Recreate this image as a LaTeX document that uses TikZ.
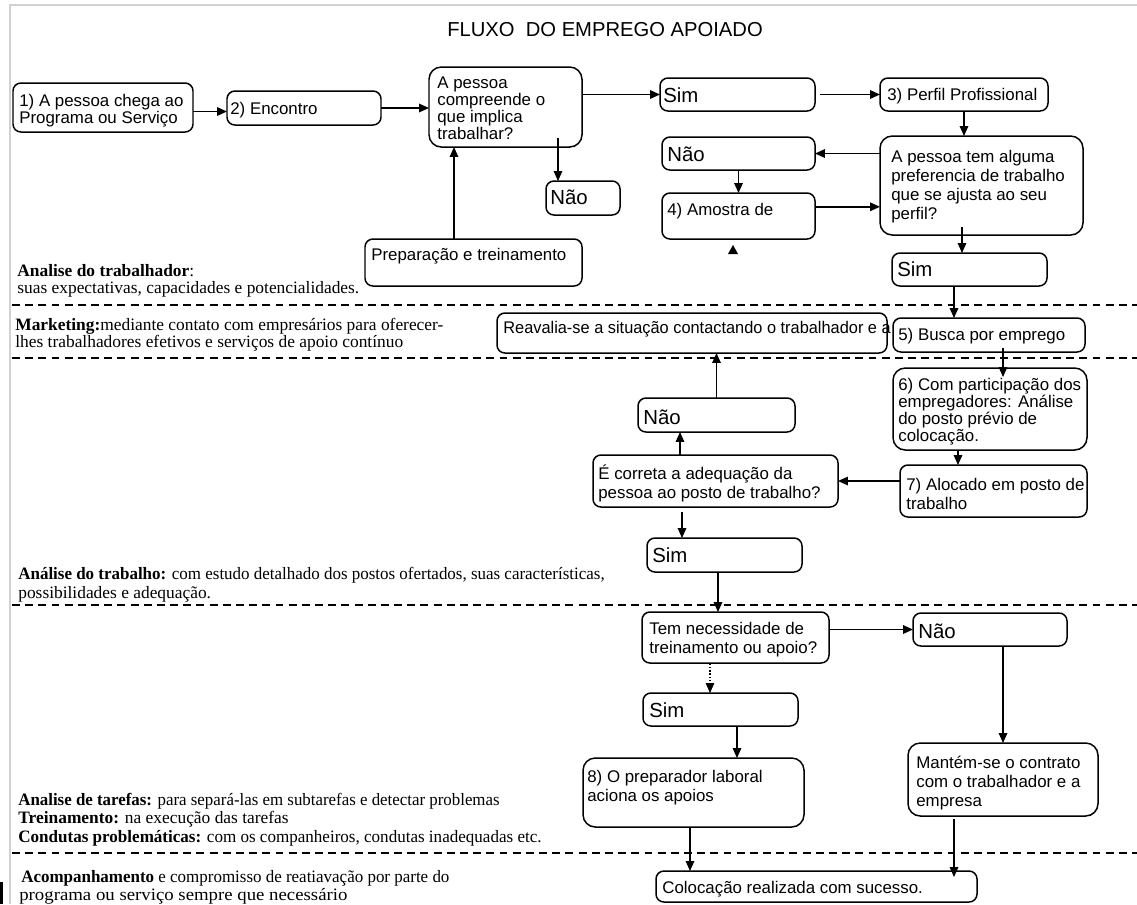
\documentclass[tikz,border=0pt]{standalone}
\usepackage{fontspec}
\setmainfont{Liberation Serif}
\newfontfamily\boxfont{Liberation Sans}
\usetikzlibrary{arrows.meta,fit,calc}

% rounded frame spanning two corner points
\newcommand\frm[6][]{\node[frame,#1,fit={(#3,#4) (#5,#6)}] (#2) {};}

\begin{document}
\begin{tikzpicture}[x=0.02cm,y=-0.02cm,
  frame/.style={draw, line width=0.85pt, rounded corners=4.5pt, inner sep=0pt, outer sep=0pt},
  qframe/.style={rounded corners=7pt},
  arr/.style={-{Triangle[length=5.6pt,width=4.8pt]}, line width=0.8pt},
  sep/.style={dashed, dash pattern=on 4.5pt off 3pt, line width=0.6pt},
  bt/.style={anchor=north west, inner sep=0pt, align=left,
    font=\boxfont\fontsize{9.6}{9.6}\selectfont},
  bt19/.style={bt, font=\boxfont\fontsize{9.6}{10.8}\selectfont},
  big/.style={anchor=west, inner sep=0pt, text height=1.6ex, text depth=0pt,
    font=\boxfont\fontsize{11.6}{12}\selectfont},
  side/.style={anchor=west, inner sep=0pt, text height=1.5ex, text depth=.25ex,
    font=\fontsize{9.9}{10}\selectfont},
]
\useasboundingbox (0,0) rectangle (1137,904);

% page frame
\draw[black!18, line width=1pt] (1137,5) -- (10,5) -- (10,904);
\fill (0,882) rectangle (3,904);

% title
\node[font=\boxfont\fontsize{11.5}{12}\selectfont, inner sep=0pt] (title) at (605,30) {FLUXO\ \ DO EMPREGO APOIADO};

% section separators
\draw[sep] (12,305) -- (1137,305);
\draw[sep] (12,358) -- (1137,358);
\draw[sep] (12,605) -- (1137,605);
\draw[sep] (12,853) -- (1137,853);

% frames
\frm{b1}{13}{83}{193}{132}
\frm{b2}{227}{91}{381}{125}
\frm[qframe]{q1}{429}{67}{582}{147}
\frm{sim1}{660}{78}{815}{111}
\frm{b3}{880}{78}{1048}{111}
\frm[qframe]{q2}{880}{136}{1083}{235}
\frm{nao2}{662}{137}{815}{170}
\frm{am}{662}{193}{815}{239}
\frm{nao1}{546}{181}{620}{215}
\frm{prep}{365}{239}{582}{286}
\frm{sim2}{892}{253}{1047}{286}
\frm{reav}{497}{313}{887}{353}
\frm{busca}{893}{318}{1085}{352}
\frm[qframe]{b6}{893}{368}{1087}{450}
\frm{b7}{900}{465}{1087}{517}
\frm{q3}{593}{455}{838}{507}
\frm{nao3}{638}{398}{795}{432}
\frm{sim3}{647}{538}{802}{572}
\frm{q4}{642}{612}{829}{663}
\frm{nao4}{913}{613}{1067}{646}
\frm{sim4}{643}{693}{798}{726}
\frm[qframe]{b8}{583}{758}{804}{827}
\frm[qframe]{mant}{908}{743}{1098}{816}
\frm{coloc}{656}{871}{977}{902}

% frame texts
\node[bt] (t1) at (19,94) {1) A pessoa chega ao\\Programa ou Serviço};
\node[bt] (t2) at (230,102) {2) Encontro};
\node[bt] (tq1) at (437,77) {A pessoa\\compreende o\\que implica\\trabalhar?};
\node[big] (ts1) at (663,96) {Sim};
\node[bt] (t3) at (887,88) {3) Perfil Profissional};
\node[bt19] (tq2) at (891,150) {A pessoa tem alguma\\preferencia de trabalho\\que se ajusta ao seu\\perfil?};
\node[big] (tn2) at (667,155) {Não};
\node[bt] (t4) at (667,203) {4) Amostra de};
\node[big] (tn1) at (550,198) {Não};
\node[bt] (tp) at (371,248) {Preparação e treinamento};
\node[big] (ts2) at (897,270) {Sim};
\node[bt] (tr) at (503,321) {\scalebox{0.97}[1]{Reavalia-se a situação contactando o trabalhador e a}};
\node[bt] (t5) at (898,328) {5) Busca por emprego};
\node[bt] (t6) at (898,378) {6) Com participação dos\\empregadores: Análise\\do posto prévio de\\colocação.};
\node[bt19] (t7) at (906,478) {7) Alocado em posto de\\trabalho};
\node[bt19] (tq3) at (598,465) {É correta a adequação da\\pessoa ao posto de trabalho?};
\node[big] (tn3) at (643,418) {Não};
\node[big] (ts3) at (652,556) {Sim};
\node[bt19] (tq4) at (649,622) {Tem necessidade de\\treinamento ou apoio?};
\node[big] (tn4) at (918,632) {Não};
\node[big] (ts4) at (649,711) {Sim};
\node[bt19] (t8) at (587,770) {8) O preparador laboral\\aciona os apoios};
\node[bt19] (tm) at (916,756) {Mantém-se o contrato\\com o trabalhador e a\\empresa};
\node[bt] (tc) at (662,881) {Colocação realizada com sucesso.};

% side notes
\node[side] (s1) at (17,271) {\textbf{Analise do trabalhador}:};
\node[side] (s2) at (17,288) {suas expectativas, capacidades e potencialidades.};
\node[side] (s3) at (15,325) {\textbf{Marketing:}mediante contato com empresários para oferecer-};
\node[side] (s4) at (15,342) {lhes trabalhadores efetivos e serviços de apoio contínuo};
\node[side] (s5) at (18,574) {\scalebox{0.975}[1]{\textbf{Análise do trabalho:} com estudo detalhado dos postos ofertados, suas características,}};
\node[side] (s6) at (18,593) {possibilidades e adequação.};
\node[side] (s7) at (18,800) {\scalebox{0.97}[1]{\textbf{Analise de tarefas:} para separá-las em subtarefas e detectar problemas}};
\node[side] (s8) at (18,818) {\textbf{Treinamento:} na execução das tarefas};
\node[side] (s9) at (18,837) {\scalebox{0.98}[1]{\textbf{Condutas problemáticas:} com os companheiros, condutas inadequadas etc.}};
\node[side] (s10) at (21,877) {\scalebox{0.975}[1]{\textbf{Acompanhamento} e compromisso de reatiavação por parte do}};
\node[side] (s11) at (19,895) {\scalebox{1.08}[1]{programa ou serviço sempre que necessário}};

% connector attachment points
\coordinate (b1out) at ($(b1.east)+(0,4)$);
\coordinate (n1in) at ($(nao1.north west)+(12,0)$);
\coordinate (n1out) at ($(n1in |- q1.south)+(0,-9)$);
\coordinate (prepout) at ($(prep.north west)+(89,0)$);
\coordinate (amout) at ($(am.north east)!0.3!(am.south east)$);
\coordinate (s2in) at ($(sim2.north west)+(70,0)$);
\coordinate (q2out) at ($(s2in |- q2.south)+(0,-8)$);
\coordinate (s2out) at ($(sim2.south west)+(62,0)$);
\coordinate (bsout) at ($(busca.south west)+(110,-4)$);
\coordinate (b6in) at ($(bsout |- b6.north)+(0,9)$);
\coordinate (b6out) at ($(b6.south west)+(65,0)$);
\coordinate (q3up) at ($(q3.north west)+(87,0)$);
\coordinate (s3in) at ($(sim3.north west)+(35,0)$);
\coordinate (q3out) at ($(s3in |- q3.south)+(0,5)$);
\coordinate (s3out) at ($(sim3.south west)+(71,0)$);
\coordinate (s4in) at ($(sim4.north west)+(67,0)$);
\coordinate (q4out) at ($(s4in |- q4.south)+(0,1)$);
\coordinate (s4out) at ($(sim4.south west)+(94,0)$);
\coordinate (n4out) at ($(nao4.south west)+(90,0)$);
\coordinate (b8out) at ($(b8.south west)+(107,0)$);
\coordinate (mout) at ($(mant.south west)+(46,3)$);
\coordinate (cin) at ($(mout |- coloc.north)+(0,6)$);

% connectors
\draw[arr] (b1out) -- (b1out -| b2.west);
\draw[arr] (b2.east) -- (b2.east -| q1.west);
\draw[arr] (q1.east |- sim1.west) -- (sim1.west);
\draw[arr] ([xshift=0.1cm]sim1.east) -- (b3.west);
\draw[arr] (b3.south) -- (b3.south |- q2.north);
\draw[arr] (q2.west |- nao2.east) -- (nao2.east);
\draw[arr] (nao2.south) -- (nao2.south |- am.north);
\draw[arr] (amout) -- (amout -| q2.west);
\draw[arr] (n1out) -- (n1in);
\draw[arr] (prepout) -- (prepout |- q1.south);
\fill ($(am.south west)+(66,15)$) -- ++(10,0) -- ++(-5,-9) -- cycle;
\draw[arr] (q2out) -- (s2in);
\draw[arr] (s2out) -- (s2out |- busca.north);
\draw[arr] (bsout) -- (b6in);
\draw[arr] (b6out) -- (b6out |- b7.north);
\draw[arr] (b7.west |- q3.east) -- (q3.east);
\draw[arr] (q3up) -- (q3up |- nao3.south);
\draw[arr] (nao3.north) -- (nao3.north |- reav.south);
\draw[arr] (q3out) -- (s3in);
\draw[arr] (s3out) -- (s3out |- q4.north);
\draw[arr] (q4.east |- nao4.west) -- (nao4.west);
\draw[arr, line width=0.6pt, dash pattern=on 0.7pt off 1.1pt] (q4out) -- (s4in);
\draw[arr] (s4out) -- (s4out |- b8.north);
\draw[arr] (n4out) -- (n4out |- mant.north);
\draw[arr] (b8out) -- (b8out |- coloc.north);
\draw[arr] (mout) -- (cin);
\end{tikzpicture}
\end{document}
